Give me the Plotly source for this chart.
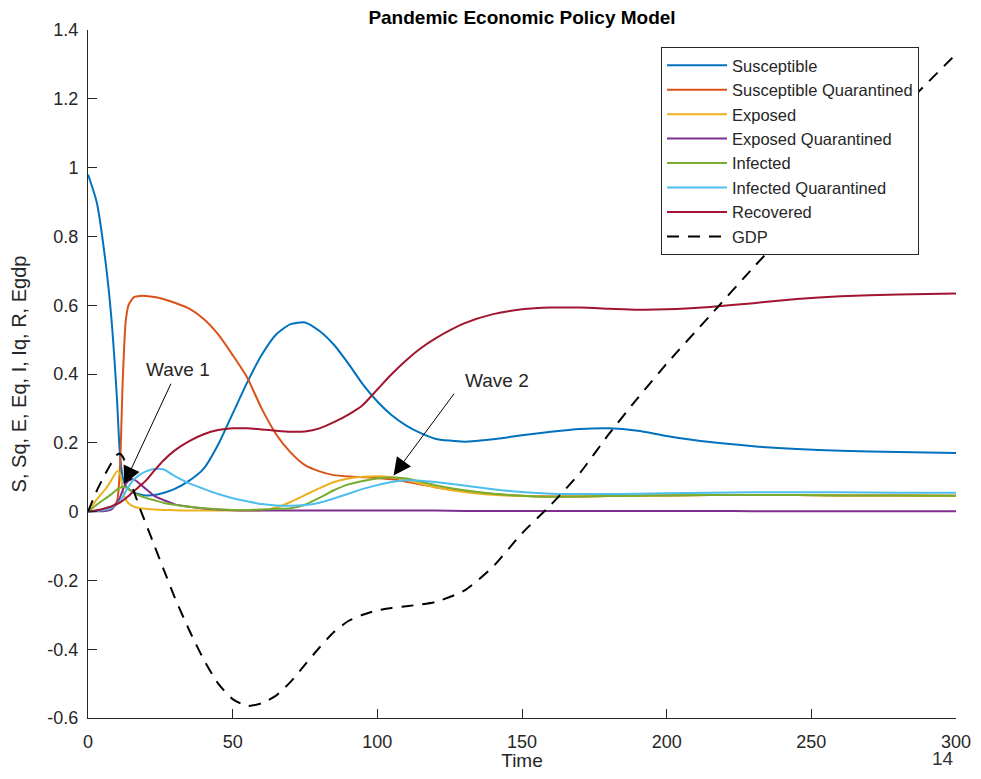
import plotly.graph_objects as go

# ---- data ----
time = [0, 3, 6, 8, 10, 11, 12, 13, 14, 15, 16, 18, 20, 23, 26, 30, 35, 40, 45, 50,
        55, 60, 65, 70, 75, 80, 85, 90, 95, 100, 105, 110, 115, 120, 130, 140, 150,
        160, 170, 180, 190, 200, 215, 230, 245, 260, 280, 300]

susceptible = [0.98, 0.90, 0.73, 0.57, 0.33, 0.17, 0.10, 0.075, 0.066, 0.06, 0.055, 0.05, 0.047,
               0.048, 0.054, 0.066, 0.09, 0.125, 0.195, 0.285, 0.375, 0.455, 0.515, 0.545, 0.55,
               0.525, 0.485, 0.43, 0.37, 0.32, 0.28, 0.25, 0.228, 0.212, 0.203, 0.21, 0.222,
               0.232, 0.24, 0.242, 0.235, 0.22, 0.202, 0.19, 0.182, 0.177, 0.173, 0.17]

susceptible_q = [0.0, 0.002, 0.004, 0.008, 0.03, 0.12, 0.38, 0.55, 0.6, 0.615, 0.624, 0.627,
                 0.627, 0.624, 0.618, 0.607, 0.59, 0.56, 0.515, 0.455, 0.39, 0.30, 0.225, 0.172,
                 0.135, 0.117, 0.106, 0.102, 0.1, 0.098, 0.094, 0.087, 0.079, 0.071, 0.059, 0.051,
                 0.046, 0.044, 0.044, 0.045, 0.046, 0.047, 0.048, 0.048, 0.048, 0.047, 0.047, 0.046]

exposed = [0.0, 0.035, 0.065, 0.09, 0.117, 0.112, 0.065, 0.035, 0.024, 0.018, 0.014, 0.01,
           0.008, 0.006, 0.005, 0.004, 0.003, 0.003, 0.003, 0.003, 0.003, 0.004, 0.012, 0.028,
           0.048, 0.068, 0.086, 0.096, 0.101, 0.103, 0.1, 0.092, 0.081, 0.071, 0.057, 0.049,
           0.045, 0.043, 0.044, 0.045, 0.046, 0.047, 0.048, 0.048, 0.048, 0.047, 0.047, 0.046]

exposed_q = [0.0, 0.001, 0.002, 0.006, 0.025, 0.04, 0.062, 0.08, 0.09, 0.095, 0.093, 0.08,
             0.066, 0.045, 0.034, 0.021, 0.014, 0.009, 0.006, 0.004, 0.003, 0.003, 0.003, 0.003,
             0.003, 0.003, 0.003, 0.003, 0.003, 0.003, 0.003, 0.003, 0.003, 0.003, 0.002, 0.002,
             0.002, 0.002, 0.002, 0.002, 0.002, 0.002, 0.002, 0.001, 0.001, 0.001, 0.001, 0.001]

infected = [0.0, 0.02, 0.038, 0.05, 0.064, 0.069, 0.072, 0.071, 0.066, 0.06, 0.054, 0.046,
            0.04, 0.033, 0.026, 0.02, 0.014, 0.01, 0.007, 0.005, 0.005, 0.006, 0.008, 0.01,
            0.02, 0.04, 0.062, 0.079, 0.089, 0.096, 0.099, 0.096, 0.087, 0.077, 0.062, 0.052,
            0.046, 0.043, 0.044, 0.045, 0.046, 0.047, 0.048, 0.048, 0.048, 0.047, 0.047, 0.046]

infected_q = [0.0, 0.002, 0.005, 0.01, 0.022, 0.03, 0.042, 0.058, 0.072, 0.085, 0.094, 0.108,
              0.117, 0.124, 0.123, 0.103, 0.082, 0.066, 0.051, 0.039, 0.03, 0.022, 0.018, 0.017,
              0.019, 0.026, 0.038, 0.052, 0.066, 0.077, 0.086, 0.091, 0.09, 0.086, 0.076, 0.065,
              0.057, 0.052, 0.051, 0.051, 0.052, 0.053, 0.055, 0.056, 0.056, 0.056, 0.055, 0.055]

recovered = [0.0, 0.004, 0.01, 0.015, 0.022, 0.026, 0.032, 0.038, 0.045, 0.053, 0.06, 0.075,
             0.09, 0.12, 0.148, 0.178, 0.205, 0.225, 0.237, 0.242, 0.242, 0.239, 0.235, 0.232,
             0.233, 0.242, 0.26, 0.282, 0.31, 0.355, 0.4, 0.44, 0.475, 0.503, 0.547, 0.574,
             0.588, 0.593, 0.593, 0.59, 0.587, 0.588, 0.595, 0.606, 0.618, 0.626, 0.631, 0.634]

gdp = [0.0, 0.06, 0.11, 0.14, 0.165, 0.168, 0.16, 0.14, 0.11, 0.08, 0.055, 0.008, -0.035,
       -0.1, -0.165, -0.25, -0.345, -0.43, -0.5, -0.545, -0.565, -0.557, -0.535, -0.495,
       -0.445, -0.395, -0.35, -0.318, -0.3, -0.287, -0.28, -0.275, -0.27, -0.263, -0.23,
       -0.16, -0.063, 0.02, 0.112, 0.225, 0.33, 0.43, 0.57, 0.71, 0.845, 0.98, 1.16, 1.33]

series_names = ["Susceptible", "Susceptible Quarantined", "Exposed", "Exposed Quarantined",
                "Infected", "Infected Quarantined", "Recovered", "GDP"]
series_values = [susceptible, susceptible_q, exposed, exposed_q, infected, infected_q,
                 recovered, gdp]
series_colors = ["#0072BD", "#D95319", "#EDB120", "#7E2F8E", "#77AC30", "#4DBEEE",
                 "#A2142F", "#000000"]

y_ticks = [1.4, 1.2, 1, 0.8, 0.6, 0.4, 0.2, 0, -0.2, -0.4, -0.6]
y_tick_text = ["1.4", "1.2", "1", "0.8", "0.6", "0.4", "0.2", "0", "-0.2", "-0.4", "-0.6"]
x_ticks = [0, 50, 100, 150, 200, 250, 300]

FONT = "Liberation Sans Narrow, Liberation Sans, Arial, sans-serif"
SANS = "Liberation Sans, Arial, sans-serif"
AX = "#262626"

fig = go.Figure()
for name, vals, col in zip(series_names, series_values, series_colors):
    dash = "12px,9px" if name == "GDP" else "solid"
    fig.add_trace(go.Scatter(
        x=time, y=vals, mode="lines", name=name,
        line=dict(color=col, width=2, dash=dash, shape="spline", smoothing=0.6),
    ))

# page has an 8px body margin: figure is 965x763, plot area lands at x 88..956, y 30..718
fig.update_layout(
    width=965, height=763,
    margin=dict(l=80, r=17, t=22, b=53),
    paper_bgcolor="white", plot_bgcolor="white",
    font=dict(family=FONT, color=AX, size=18),
    title=dict(text="<b>Pandemic Economic Policy Model</b>", x=0.5, xref="paper",
               y=1 - 3 / 763, yref="container", yanchor="top", pad=dict(t=0, b=0),
               font=dict(size=19, color="#000000", family=FONT)),
    showlegend=True,
    legend=dict(x=(661 - 88) / 868, y=(718 - 47) / 688, xanchor="left", yanchor="top",
                bgcolor="white", bordercolor="#262626", borderwidth=1,
                font=dict(size=16.5, family=SANS, color="#262626"),
                tracegroupgap=0, itemwidth=60),
    xaxis=dict(range=[0, 300], tickvals=x_ticks, showgrid=False, zeroline=False,
               showline=True, linecolor=AX, linewidth=1, ticks="inside", ticklen=9,
               tickcolor=AX, mirror=False, automargin=False, ticklabelstandoff=7,
               title=dict(text="Time", standoff=19, font=dict(size=19))),
    yaxis=dict(range=[-0.6, 1.4], tickvals=y_ticks, ticktext=y_tick_text, showgrid=False,
               zeroline=False, showline=True, linecolor=AX, linewidth=1, ticks="inside",
               ticklen=9, tickcolor=AX, mirror=False, automargin=False, ticklabelstandoff=5,
               title=dict(text="S, Sq, E, Eq, I, Iq, R, Egdp", standoff=16, font=dict(size=20))),
)

# Wave annotations
fig.add_annotation(x=31.0, y=0.412, text="Wave 1", showarrow=False,
                   font=dict(size=19, family=SANS, color="#262626"))
fig.add_annotation(x=141.3, y=0.381, text="Wave 2", showarrow=False,
                   font=dict(size=19, family=SANS, color="#262626"))
fig.add_annotation(x=12.5, y=0.08, ax=28.9, ay=0.376, axref="x", ayref="y", text="",
                   showarrow=True, arrowhead=2, arrowsize=3.5, arrowwidth=1, arrowcolor="#000000",
                   standoff=0)
fig.add_annotation(x=105.6, y=0.105, ax=126.9, ay=0.347, axref="x", ayref="y", text="",
                   showarrow=True, arrowhead=2, arrowsize=3.5, arrowwidth=1, arrowcolor="#000000",
                   standoff=0)

# page number
fig.add_annotation(x=(943 - 88) / 868, y=(718 - 758) / 688, xref="paper", yref="paper",
                   text="14", showarrow=False, xanchor="center", yanchor="middle",
                   font=dict(size=19, family=FONT, color="#333333"))

fig.write_html("out.html")
